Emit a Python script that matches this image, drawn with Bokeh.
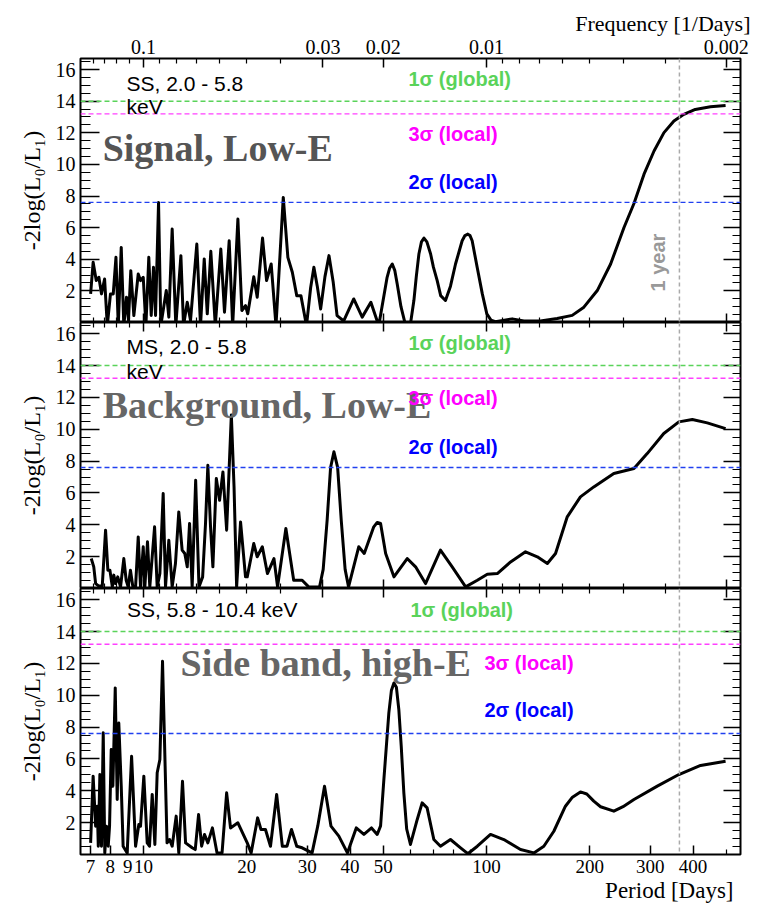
from bokeh.plotting import figure
from bokeh.models import (LogAxis, LinearAxis, FixedTicker, CustomJSTickFormatter,
                          NumeralTickFormatter, Span, Label, Range1d)
from bokeh.layouts import column
from bokeh.embed import file_html
from bokeh.resources import INLINE

# ---------------- data (period in days, -2log(L0/L1)) ----------------
SIG_PERIOD = [7.01, 7.13, 7.28, 7.41, 7.54, 7.70, 7.84, 8.01, 8.16, 8.31,
              8.44, 8.61, 8.76, 8.92, 9.04, 9.18, 9.37, 9.65, 9.80, 9.98,
              10.16, 10.36, 10.53, 10.69, 10.84, 11.06, 11.23, 11.65, 11.85, 12.12,
              12.42, 12.85, 13.08, 13.41, 13.71, 14.30, 14.66, 15.03, 15.34, 15.71,
              16.19, 16.80, 17.22, 17.77, 18.19, 18.84, 19.35, 19.83, 20.13, 20.96,
              21.45, 22.23, 22.84, 23.56, 24.33, 25.55, 26.35, 27.15, 27.97, 28.76,
              29.86, 30.7, 31.38, 32.1, 32.84, 33.8, 34.73, 35.7, 36.66, 38.34,
              41.0, 43.4, 46.0, 48.5, 51.3, 52.2, 53.1, 54.0, 54.9, 56.3,
              58.1, 59.9, 61.4, 62.4, 63.5, 64.6, 65.7, 67.0, 68.7, 70.0,
              71.8, 73.5, 75.9, 78.5, 81.2, 84.9, 86.5, 88.2, 89.5, 90.8,
              93.9, 97.2, 100.2, 103.0, 106.1, 118.8, 128.5, 143.6, 160.6, 177.7,
              192.2, 210.3, 230, 251.6, 269, 287.8, 307.8, 329, 351.8, 376,
              406, 449.5, 497.6]
SIG_VALUE = [1.81, 3.81, 2.65, 2.86, 1.81, 2.75, -0.2, 1.81, 1.81, 4.12,
             -0.2, 4.75, -0.2, 1.60, 0.13, 3.28, 0.44, 3.07, 2.65, 2.86,
             -0.2, 4.12, 0.44, 3.49, 0.44, 7.59, -0.2, 2.02, 0.34, 5.91,
             -0.2, 4.23, -0.2, 1.28, 0.13, 4.96, -0.2, 4.02, 0.55, 4.50,
             -0.2, 4.65, 0.65, 5.17, -0.2, 6.54, 0.76, 1.07, 0.55, 2.90,
             1.60, 5.34, 2.65, 3.70, -0.2, 7.91, 4.12, 3.18, 1.70, 1.70,
             -0.2, 2.2, 3.49, 2.3, 0.86, 2.9, 4.23, 2.6, 0.44, 0.1,
             1.49, 0.34, 1.28, -0.2, 2.86, 3.45, 3.70, 3.3, 2.44, 1.0,
             -0.2, -0.2, 1.39, 2.9, 4.33, 5.1, 5.34, 5.1, 4.33, 3.5,
             2.65, 1.7, 1.39, 2.3, 3.70, 5.17, 5.5, 5.59, 5.5, 5.17,
             3.49, 1.81, 0.55, 0.15, 0.05, 0.23, 0.1, 0.1, 0.25, 0.45,
             0.97, 2.02, 3.70, 6.01, 7.53, 9.38, 10.85, 12.01, 12.74, 13.17,
             13.48, 13.65, 13.73]

BKG_PERIOD = [7.04, 7.16, 7.25, 7.41, 7.58, 7.75, 7.87, 7.98, 8.11, 8.19,
              8.29, 8.41, 8.57, 8.76, 8.90, 9.02, 9.16, 9.31, 9.48, 9.65,
              9.80, 9.98, 10.09, 10.27, 10.43, 10.77, 10.96, 11.16, 11.41, 11.59,
              11.85, 12.12, 12.39, 12.67, 12.96, 13.19, 13.41, 13.62, 13.86, 14.19,
              14.51, 14.87, 15.16, 15.40, 15.68, 15.93, 16.30, 16.66, 17.04, 17.47,
              18.03, 18.36, 18.68, 19.18, 19.83, 20.06, 20.96, 21.45, 22.20, 22.97,
              24.0, 24.59, 26.0, 27.4, 29.0, 30.3, 32.6, 33.4, 34.3, 35.1,
              35.9, 36.8, 37.7, 38.7, 39.6, 42.4, 44.0, 46.9, 48.0, 49.1,
              50.8, 53.7, 58.7, 62.1, 66.4, 73.4, 79.4, 86.9, 94.0, 100.5,
              107.5, 117.5, 129.9, 140.6, 150.4, 158.9, 171.9, 187.8, 205.4, 235,
              269, 294, 328.6, 363.6, 398, 440, 497.6]
BKG_VALUE = [1.88, 1.36, 0.31, 0.15, 0.15, 3.66, 1.15, 1.15, 0.1, 0.84,
             0.31, 0.73, 0.1, 1.88, 0.52, 0.1, 1.15, 0.1, 0.1, 3.24,
             0.1, 2.62, 0.1, 2.93, 0.1, 3.87, 0.1, 0.94, 5.96, 0.1,
             3.03, 0.1, 1.57, 4.81, 2.41, 2.2, 1.36, 4.08, 0.1, 6.80,
             0.1, 0.73, 4.08, 7.74, 3.87, 1.36, 6.90, 5.54, 7.32, 3.66,
             10.9, 6.38, 0.1, 4.18, 0.73, 0.73, 2.82, 1.99, 2.62, 0.94,
             1.88, 0.1, 3.77, 0.52, 0.52, 0.1, 0.1, 1.2, 4.3, 7.6,
             8.58, 7.6, 4.3, 1.2, 0.1, 2.62, 2.2, 3.87, 4.15, 4.08,
             2.2, 0.73, 1.88, 1.36, 0.31, 2.41, 1.36, 0.1, 0.52, 0.90,
             0.94, 1.67, 2.30, 1.99, 1.57, 2.2, 4.50, 5.75, 6.38, 7.22,
             7.53, 8.47, 9.73, 10.46, 10.61, 10.40, 10.04]

SIDE_PERIOD = [7.01, 7.13, 7.25, 7.33, 7.38, 7.46, 7.54, 7.63, 7.71, 7.80,
               7.89, 7.96, 8.05, 8.14, 8.27, 8.38, 8.47, 8.61, 8.72, 8.96,
               9.23, 9.48, 9.69, 9.80, 10.02, 10.25, 10.41, 10.60, 10.79, 10.96,
               11.16, 11.36, 11.56, 11.71, 11.91, 12.12, 12.45, 12.67, 12.99, 13.26,
               13.86, 14.15, 14.47, 14.77, 15.06, 15.40, 15.88, 16.38, 16.94, 17.47,
               17.93, 18.84, 20.06, 20.59, 21.51, 22.0, 22.67, 23.45, 24.44, 25.39,
               26.2, 27.0, 27.97, 29.0, 31.0, 32.2, 33.7, 35.2, 37.1, 39.3,
               41.7, 43.9, 46.2, 48.0, 49.1, 50.2, 51.9, 52.8, 53.7, 54.6,
               55.5, 56.4, 57.4, 58.5, 60.0, 62.8, 64.9, 67.1, 70.2, 73.4,
               78.5, 84.0, 88.2, 94.0, 102.7, 112.3, 125.6, 137.4, 146.9, 157.1,
               169.8, 178, 187.8, 196, 205.4, 215, 235, 250, 269, 314.6,
               363.6, 420.7, 497.6]
SIDE_VALUE = [0.73, 4.92, 1.78, 3.03, 0.52, 5.02, 0.52, 7.64, 0.1, 1.78,
              0.52, 1.78, 6.59, 4.29, 10.46, 3.45, 8.26, 4.29, 0.52, 0.1,
              6.17, 0.52, 1.88, 1.78, 4.92, 0.73, 0.52, 3.77, 0.63, 5.13,
              5.96, 12.13, 5.54, 0.73, 0.94, 0.52, 2.41, 0.1, 4.60, 0.73,
              0.42, 0.31, 2.51, 0.52, 1.26, 0.73, 1.67, 0.1, 0.1, 3.87,
              1.67, 1.99, 0.73, 0.1, 2.30, 1.57, 1.57, 0.52, 3.77, 0.52,
              0.52, 1.57, 0.52, 0.42, 0.1, 1.78, 4.29, 1.78, 1.15, 0.1,
              1.67, 1.26, 1.67, 1.26, 1.8, 4.71, 8.89, 10.3, 10.77, 10.5,
              9.10, 6.8, 3.87, 1.6, 0.63, 2.2, 3.24, 2.93, 0.94, 0.52,
              0.94, 0.42, 0.05, 0.52, 1.26, 0.94, 0.31, 0.1, 0.52, 1.46,
              3.03, 3.6, 3.93, 3.8, 3.35, 3.0, 2.72, 3.0, 3.45, 4.29,
              5.02, 5.59, 5.86]

THRESH_NAMES = ["1\u03c3 (global)", "3\u03c3 (local)", "2\u03c3 (local)"]
THRESH_VALUES = [14.0, 13.2, 7.6]
YEAR_DAYS = 365

FREQ_TICKS = [0.1, 0.03, 0.02, 0.01, 0.002]
FREQ_MINOR = [0.14, 0.13, 0.12, 0.11, 0.09, 0.08, 0.07, 0.06, 0.05, 0.04,
              0.009, 0.008, 0.007, 0.006, 0.005, 0.004, 0.003]
PERIOD_TICKS = [7, 8, 9, 10, 20, 30, 40, 50, 100, 200, 300, 400]
PERIOD_MINOR = [60, 70, 80, 90, 500]
Y_TICKS = [2, 4, 6, 8, 10, 12, 14, 16]
Y_MINOR = [0.5, 1, 1.5, 2.5, 3, 3.5, 4.5, 5, 5.5, 6.5, 7, 7.5, 8.5, 9, 9.5,
           10.5, 11, 11.5, 12.5, 13, 13.5, 14.5, 15, 15.5, 16.5]

# ---------------- styling ----------------
X_START, X_END = 6.55, 550
Y_START, Y_END = 0.0, 16.7
W = 759
LINE_COLORS = ["#5ad35a", "#ff40ff", "#2040f0"]
TEXT_COLORS = ["#5ad35a", "#ff00ff", "#0000ff"]
SERIF = "Liberation Serif"
SANS = "Liberation Sans"


def style_axis(ax, labels, size="19px", major=9, minor=5):
    ax.axis_line_color = None
    ax.major_tick_in = major
    ax.major_tick_out = 0
    ax.minor_tick_in = minor
    ax.minor_tick_out = 0
    ax.major_tick_line_color = "black"
    ax.minor_tick_line_color = "black"
    ax.major_tick_line_width = 1.5
    ax.minor_tick_line_width = 1.2
    if labels:
        ax.major_label_text_font = SERIF
        ax.major_label_text_font_size = size
        ax.major_label_text_color = "black"
        ax.major_label_standoff = 5
    else:
        ax.major_label_text_font_size = "0px"
        ax.major_label_text_color = None
        ax.major_label_standoff = 0


def freq_axis(labels):
    ax = LogAxis(ticker=FixedTicker(ticks=[1.0 / f for f in FREQ_TICKS],
                                    minor_ticks=[1.0 / f for f in FREQ_MINOR]),
                 formatter=CustomJSTickFormatter(
                     code="return String(parseFloat((1.0/tick).toPrecision(3)));"))
    style_axis(ax, labels, "20px")
    return ax


def period_axis(labels):
    ax = LogAxis(ticker=FixedTicker(ticks=PERIOD_TICKS, minor_ticks=PERIOD_MINOR),
                 formatter=NumeralTickFormatter(format="0"))
    style_axis(ax, labels, "19px")
    return ax


def make_panel(periods, values, height, top, bottom, title="", title_loc="above"):
    p = figure(width=W, height=height, x_axis_type="log",
               x_range=Range1d(X_START, X_END), y_range=Range1d(Y_START, Y_END),
               x_axis_location=None, y_axis_location=None,
               output_backend="svg", toolbar_location=None,
               min_border_left=80, min_border_right=19,
               min_border_top=top, min_border_bottom=bottom,
               title=title, title_location=title_loc)
    p.grid.grid_line_color = None
    p.grid.visible = False
    p.outline_line_color = "black"
    p.outline_line_width = 2
    p.background_fill_color = "white"
    p.border_fill_color = "white"
    p.title.text_color = "black"

    left = LinearAxis(ticker=FixedTicker(ticks=Y_TICKS, minor_ticks=Y_MINOR),
                      axis_label="-2log(L\u2080/L\u2081)")
    style_axis(left, True, "20px", major=19, minor=10)
    left.axis_label_text_font = SERIF
    left.axis_label_text_font_size = "24px"
    left.axis_label_text_font_style = "normal"
    left.axis_label_text_color = "black"
    left.axis_label_standoff = 8
    p.add_layout(left, "left")
    right = LinearAxis(ticker=FixedTicker(ticks=Y_TICKS, minor_ticks=Y_MINOR))
    style_axis(right, False, major=17, minor=8)
    p.add_layout(right, "right")

    for val, col in zip(THRESH_VALUES, LINE_COLORS):
        p.add_layout(Span(location=val, dimension="width", line_color=col,
                          line_dash="5 3", line_width=1.4))
    p.add_layout(Span(location=YEAR_DAYS, dimension="height", line_color="#aaaaaa",
                      line_dash="4 3", line_width=1.5))
    p.line(periods, values, line_color="black", line_width=3, line_join="round")
    return p


def add_text(p, x, y, text, color="black", size="21px", font=SANS, style="normal",
             angle=0.0, align="left"):
    p.add_layout(Label(x=x, y=y, text=text, text_color=color, text_font=font,
                       text_font_size=size, text_font_style=style, angle=angle,
                       text_align=align, text_baseline="middle"))


# ---------------- panel 1: signal ----------------
p1 = make_panel(SIG_PERIOD, SIG_VALUE, 322, 58, 0, title="Frequency [1/Days]")
p1.title.align = "right"
p1.title.offset = -10
p1.title.text_font = SERIF
p1.title.text_font_size = "22px"
p1.title.text_font_style = "normal"
p1.title.standoff = 2
p1.add_layout(freq_axis(True), "above")
p1.add_layout(freq_axis(False), "below")
add_text(p1, 8.92, 15.14, "SS, 2.0 - 5.8")
add_text(p1, 8.92, 13.69, "keV")
add_text(p1, 7.60, 11.04, "Signal, Low-E", color="#555555", size="38px", font=SERIF, style="bold")
for name, yv, col in zip(THRESH_NAMES, [15.39, 11.92, 8.90], TEXT_COLORS):
    add_text(p1, 59.2, yv, name, color=col, size="20px", style="bold")
add_text(p1, 317, 3.79, "1 year", color="#999999", size="20px", style="bold",
         angle=1.5708, align="center")

# ---------------- panel 2: background ----------------
p2 = make_panel(BKG_PERIOD, BKG_VALUE, 266, 0, 0)
p2.add_layout(freq_axis(False), "above")
p2.add_layout(freq_axis(False), "below")
add_text(p2, 8.92, 15.22, "MS, 2.0 - 5.8")
add_text(p2, 8.92, 13.65, "keV")
add_text(p2, 7.60, 11.51, "Background, Low-E", color="#666666", size="38px", font=SERIF, style="bold")
for name, yv, col in zip(THRESH_NAMES, [15.40, 11.96, 8.87], TEXT_COLORS):
    add_text(p2, 59.2, yv, name, color=col, size="20px", style="bold")

# ---------------- panel 3: side band ----------------
p3 = make_panel(SIDE_PERIOD, SIDE_VALUE, 321, 0, 55, title="Period [Days]", title_loc="below")
p3.title.align = "right"
p3.title.offset = 7
p3.title.text_font = SERIF
p3.title.text_font_size = "23px"
p3.title.text_font_style = "normal"
p3.title.standoff = 0
p3.add_layout(freq_axis(False), "above")
p3.add_layout(period_axis(True), "below")
add_text(p3, 8.95, 15.38, "SS,  5.8  - 10.4 keV")
add_text(p3, 12.82, 12.05, "Side band, high-E", color="#666666", size="38px", font=SERIF, style="bold")
for name, xv, yv, col in zip(THRESH_NAMES, [60.0, 98.6, 98.6], [15.38, 12.05, 9.10], TEXT_COLORS):
    add_text(p3, xv, yv, name, color=col, size="20px", style="bold")

layout = column(p1, p2, p3)
open("out.html", "w").write(file_html(layout, INLINE))
